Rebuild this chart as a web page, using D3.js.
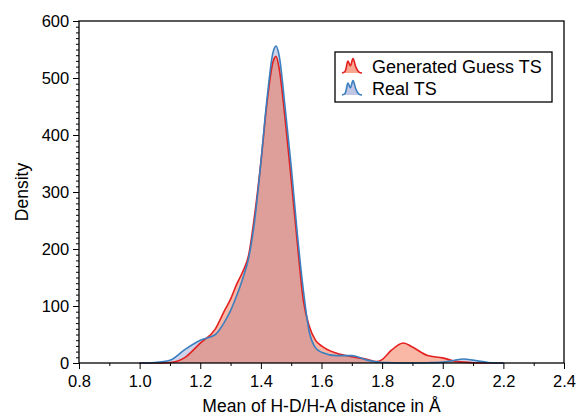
<!DOCTYPE html>
<html>
<head>
<meta charset="utf-8">
<script src="https://cdn.jsdelivr.net/npm/d3@7"></script>
<style>
  body { margin: 0; background: #fff; }
  text { font-family: "Liberation Sans", Arial, Helvetica, sans-serif; fill: #000; }
</style>
</head>
<body>
<svg id="chart" width="578" height="416"></svg>
<script>
// sample positions (Å) and kde densities
var xs = [1.00, 1.05, 1.10, 1.15, 1.20, 1.25, 1.28, 1.30, 1.32, 1.34, 1.36, 1.38,
          1.40, 1.42, 1.44, 1.45, 1.46, 1.48, 1.50, 1.52, 1.54, 1.56, 1.58, 1.60,
          1.65, 1.70, 1.75, 1.78, 1.80, 1.83, 1.87, 1.90, 1.95, 2.00, 2.03, 2.07,
          2.10, 2.15, 2.20];
var generated = [0, 0, 1, 10, 35, 60, 92, 112, 138, 160, 190, 262,
                 352, 456, 528, 538, 518, 428, 322, 212, 110, 64, 40, 30,
                 17, 11, 6.5, 2.5, 6, 22, 35, 28, 13, 9, 4.5, 1.5,
                 0.5, 0, 0];
var real = [0, 1, 5, 24, 40, 50, 72, 92, 118, 148, 185, 252,
            352, 462, 545, 556, 540, 448, 345, 228, 128, 54, 27, 19,
            13, 13, 5, 2, 1, 0.5, 0, 0, 0.5, 1.5, 4, 7,
            5, 1, 0];
var xTicks = [0.8, 1.0, 1.2, 1.4, 1.6, 1.8, 2.0, 2.2, 2.4];
var yTicks = [0, 100, 200, 300, 400, 500, 600];
var seriesNames = ["Generated Guess TS", "Real TS"];

var LEFT = 79, RIGHT = 564, TOP = 21, BOTTOM = 363;
var MAJOR = 6, MINOR = 3;

var svg = d3.select("#chart");

var x = d3.scaleLinear().domain([0.8, 2.4]).range([LEFT, RIGHT]);
var y = d3.scaleLinear().domain([0, 600]).range([BOTTOM, TOP]);

var styles = [
    {line: "#e3201f", fill: "rgb(240,84,42)", alpha: 0.42},
    {line: "#3a7fc0", fill: "rgb(100,112,190)", alpha: 0.3}
];

var area = d3.area()
    .x(function (d) { return x(d[0]); })
    .y0(y(0))
    .y1(function (d) { return y(d[1]); })
    .curve(d3.curveMonotoneX);
var line = area.lineY1();

var series = [d3.zip(xs, generated), d3.zip(xs, real)];

// fills: real underneath, generated on top
svg.append("path").attr("d", area(series[1]))
    .attr("fill", styles[1].fill).attr("fill-opacity", styles[1].alpha);
svg.append("path").attr("d", area(series[0]))
    .attr("fill", styles[0].fill).attr("fill-opacity", styles[0].alpha);
svg.append("path").attr("d", line(series[0]))
    .attr("fill", "none").attr("stroke", styles[0].line).attr("stroke-width", 1.6);
svg.append("path").attr("d", line(series[1]))
    .attr("fill", "none").attr("stroke", styles[1].line).attr("stroke-width", 1.6);

// axes
var xAxis = d3.axisBottom(x).tickValues(xTicks).tickSize(MAJOR)
    .tickFormat(d3.format(".1f"));
var xMinor = d3.axisBottom(x).tickValues(d3.range(0.9, 2.4, 0.2)).tickSize(MINOR)
    .tickFormat("");
var yAxis = d3.axisLeft(y).tickValues(yTicks).tickSize(MAJOR);
var yMinor = d3.axisLeft(y).tickValues(d3.range(10, 600, 10)).tickSize(MINOR)
    .tickFormat("");

function styleAxis(g) {
    g.select(".domain").remove();
    g.selectAll("line").attr("stroke", "#000").attr("stroke-width", 1);
    g.selectAll("text").attr("font-size", 16.5).attr("fill", "#000")
        .attr("font-family", "'Liberation Sans', Arial, sans-serif");
}

svg.append("g").attr("transform", "translate(0," + BOTTOM + ")")
    .call(xMinor).call(styleAxis);
svg.append("g").attr("transform", "translate(0," + BOTTOM + ")")
    .call(xAxis).call(styleAxis)
    .selectAll("text").attr("dy", "0.92em");
svg.append("g").attr("transform", "translate(" + LEFT + ",0)")
    .call(yMinor).call(styleAxis);
svg.append("g").attr("transform", "translate(" + LEFT + ",0)")
    .call(yAxis).call(styleAxis)
    .selectAll("text").attr("dx", "-0.05em");

// frame
svg.append("rect")
    .attr("x", LEFT).attr("y", TOP)
    .attr("width", RIGHT - LEFT).attr("height", BOTTOM - TOP)
    .attr("fill", "none").attr("stroke", "#000").attr("stroke-width", 1.3);

// axis titles
svg.append("text")
    .attr("x", (LEFT + RIGHT) / 2).attr("y", 412)
    .attr("text-anchor", "middle").attr("font-size", 17.5)
    .text("Mean of H-D/H-A distance in Å");
svg.append("text")
    .attr("transform", "translate(28," + (TOP + BOTTOM) / 2 + ") rotate(-90)")
    .attr("text-anchor", "middle").attr("font-size", 17.5)
    .text("Density");

// legend
var legend = svg.append("g").attr("transform", "translate(335,52)");
legend.append("rect")
    .attr("width", 217).attr("height", 50)
    .attr("fill", "#fff").attr("stroke", "#000").attr("stroke-width", 1.3);

// little kde glyph used as legend key
var glyph = [[0, 0], [0.15, 0.1], [0.3, 0.75], [0.42, 0.45], [0.55, 0.9],
             [0.7, 0.35], [0.85, 0.05], [1, 0]];
var gx = d3.scaleLinear().domain([0, 1]).range([0, 20]);
var gy = d3.scaleLinear().domain([0, 1]).range([0, -16]);
var glyphArea = d3.area()
    .x(function (d) { return gx(d[0]); })
    .y0(0)
    .y1(function (d) { return gy(d[1]); })
    .curve(d3.curveCatmullRom);

seriesNames.forEach(function (name, i) {
    var row = legend.append("g").attr("transform", "translate(7," + (21 + i * 22) + ")");
    row.append("path").attr("d", glyphArea(glyph))
        .attr("fill", styles[i].fill).attr("fill-opacity", styles[i].alpha + 0.1);
    row.append("path").attr("d", glyphArea.lineY1()(glyph))
        .attr("fill", "none").attr("stroke", styles[i].line).attr("stroke-width", 1.6);
    row.append("text").attr("x", 30).attr("y", 0)
        .attr("font-size", 18).text(name);
});
</script>
</body>
</html>
